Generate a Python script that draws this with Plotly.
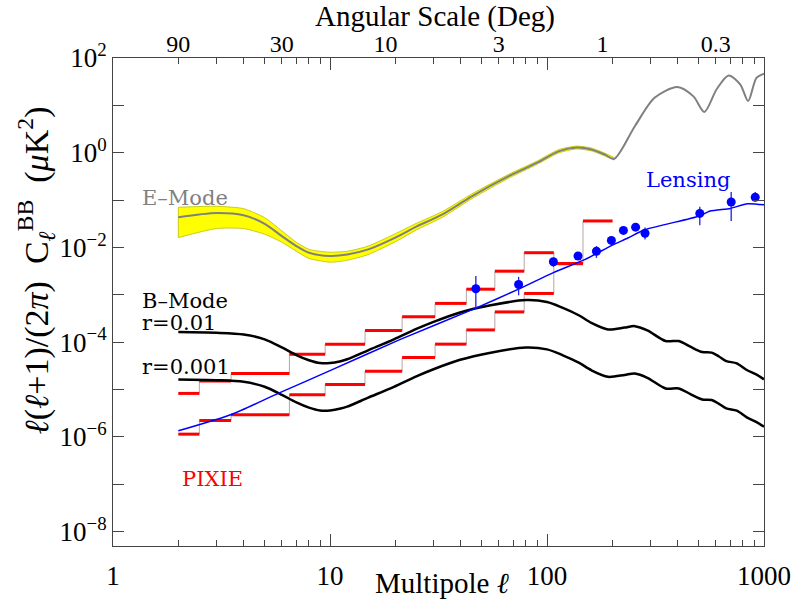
import numpy as np
import plotly.graph_objects as go

# ---------------- data (log10 of l(l+1)C_l/2pi in uK^2) ----------------
emode_ell = [2, 3, 4, 5, 6, 7, 8, 10, 12, 15, 20, 25, 33, 45, 67, 90, 113, 137, 160, 185, 204,
             254, 313, 399, 473, 531, 605, 687, 778, 845, 923, 1000]
emode_log = [-1.36, -1.27, -1.32, -1.50, -1.76, -1.97, -2.11, -2.18, -2.15, -2.04, -1.79, -1.56,
             -1.30, -0.92, -0.49, -0.21, 0.03, 0.11, 0.07, -0.04, -0.13,
             0.56, 1.16, 1.39, 1.19, 0.86, 1.34, 1.63, 1.44, 1.09, 1.58, 1.67]

band_ell = [2, 3, 4, 5, 6, 7, 8, 10, 12, 15, 20, 25, 33, 45, 67, 90, 113, 137, 160, 185, 204]
band_hi_log = [-1.15, -1.13, -1.18, -1.37, -1.65, -1.89, -2.04, -2.10, -2.08, -1.97, -1.71, -1.49,
               -1.24, -0.87, -0.45, -0.175, 0.065, 0.14, 0.10, -0.01, -0.10]
band_lo_log = [-1.79, -1.60, -1.60, -1.72, -1.89, -2.08, -2.23, -2.31, -2.27, -2.15, -1.88, -1.63,
               -1.36, -0.97, -0.53, -0.245, -0.005, 0.08, 0.04, -0.07, -0.155]

bmode_ell = [2, 3, 4, 5, 6, 7, 8, 9, 10, 11.2, 12, 15, 19.7, 25, 30, 39.4, 55, 80, 100, 117.6, 140,
             160, 191, 228, 254, 290, 352, 405, 460, 519, 574, 620, 670, 749, 833, 920, 1000]
bmode_r01_log = [-3.785, -3.80, -3.835, -3.94, -4.11, -4.27, -4.38, -4.44, -4.44, -4.40, -4.36, -4.17,
                 -3.94, -3.72, -3.57, -3.376, -3.22, -3.11, -3.15, -3.27, -3.43,
                 -3.59, -3.73, -3.69, -3.66, -3.75, -3.975, -3.975, -4.10, -4.207, -4.22, -4.30,
                 -4.397, -4.445, -4.586, -4.68, -4.783]
bmode_r001_log = [-4.785, -4.80, -4.835, -4.94, -5.11, -5.27, -5.38, -5.44, -5.44, -5.40, -5.36, -5.17,
                  -4.94, -4.72, -4.57, -4.376, -4.22, -4.11, -4.15, -4.27, -4.43,
                  -4.59, -4.73, -4.69, -4.66, -4.75, -4.975, -4.975, -5.10, -5.207, -5.22, -5.30,
                  -5.397, -5.445, -5.586, -5.68, -5.783]

lens_ell = [2, 3.54, 5.77, 10, 21.1, 47, 74, 107, 150, 200, 236, 280, 500, 565, 700, 840, 1000]
lens_log = [-5.87, -5.52, -5.08, -4.60, -3.94, -3.28, -2.88, -2.53, -2.25, -1.95, -1.80, -1.63,
            -1.34, -1.23, -1.175, -1.076, -1.10]

pts_ell = [47, 74, 107, 139, 169, 198, 225, 256, 283, 506, 706, 911]
pts_log = [-2.87, -2.78, -2.30, -2.18, -2.08, -1.85, -1.64, -1.57, -1.70, -1.28, -1.04, -0.94]
pts_hi_log = [-2.60, -2.62, -2.22, -2.13, -1.97, -1.80, -1.60, -1.53, -1.58, -1.14, -0.83, -0.83]
pts_lo_log = [-3.29, -3.01, -2.41, -2.23, -2.22, -1.90, -1.68, -1.61, -1.83, -1.53, -1.44, -1.02]

pixie_edges = [2, 2.5, 3.5, 6.5, 9.5, 14.5, 21.5, 30.5, 42.5, 57.5, 78.5, 107.5, 146.5, 200.5]
pixie_hi_log = [-5.08, -4.82, -4.66, -4.255, -4.04, -3.75, -3.46, -3.18, -2.88, -2.50, -2.11, -2.34, -1.44]
pixie_lo_log = [-5.94, -5.65, -5.53, -5.11, -4.89, -4.61, -4.32, -4.04, -3.74, -3.36, -2.97, -2.34]

x_ticks = [1, 10, 100, 1000]
x_ticktext = ['1', '10', '100', '1000']
x_minor = [2, 3, 4, 5, 6, 7, 8, 9, 20, 30, 40, 50, 60, 70, 80, 90, 200, 300, 400, 500, 600, 700, 800, 900]
top_ticks_ell = [2, 6, 18, 60, 180, 600]
top_ticktext = ['90', '30', '10', '3', '1', '0.3']
y_label_decades = [-8, -6, -4, -2, 0, 2]
y_minor_decades = [-7, -5, -3, -1, 1]

# ---------------- figure ----------------
W, H = 803, 603
ML, MR, MT, MB = 113, 32, 58, 56
PW, PH = W - ML - MR, H - MT - MB


def pxp(x):
    return (x - ML) / PW


def pyp(y):
    return (H - MB - y) / PH


def p10(a):
    return [10.0 ** v for v in a]


fig = go.Figure()

# E-mode cosmic-variance band
band_line = dict(color='#bdbd00', width=0.8, shape='spline', smoothing=0.6)
fig.add_trace(go.Scatter(x=band_ell, y=p10(band_hi_log), mode='lines', line=band_line, hoverinfo='skip', showlegend=False))
fig.add_trace(go.Scatter(x=band_ell, y=p10(band_lo_log), mode='lines', fill='tonexty', fillcolor='#ffff00',
                         line=band_line, hoverinfo='skip', showlegend=False))
fig.add_trace(go.Scatter(x=[band_ell[0], band_ell[0]], y=p10([band_hi_log[0], band_lo_log[0]]), mode='lines',
                         line=dict(color='#bdbd00', width=0.8), hoverinfo='skip', showlegend=False))
# E-mode
fig.add_trace(go.Scatter(x=emode_ell, y=p10(emode_log), mode='lines',
                         line=dict(color='#808080', width=2, shape='spline', smoothing=0.8), showlegend=False))

# PIXIE step connectors (thin gray) and bins (red)
fig.add_trace(go.Scatter(x=pixie_edges, y=p10(pixie_hi_log + [pixie_hi_log[-1]]), mode='lines',
                         line=dict(color='#b8a4a4', width=1, shape='hv'), showlegend=False, hoverinfo='skip'))
fig.add_trace(go.Scatter(x=pixie_edges[:len(pixie_lo_log) + 1], y=p10(pixie_lo_log + [pixie_lo_log[-1]]), mode='lines',
                         line=dict(color='#b8a4a4', width=1, shape='hv'), showlegend=False, hoverinfo='skip'))
rx, ry = [], []
for vals in (pixie_hi_log, pixie_lo_log):
    for i, v in enumerate(vals):
        rx += [pixie_edges[i], pixie_edges[i + 1], None]
        ry += [10.0 ** v, 10.0 ** v, None]
fig.add_trace(go.Scatter(x=rx, y=ry, mode='lines', line=dict(color='#ff0000', width=3), showlegend=False))

# B-mode
for arr in (bmode_r01_log, bmode_r001_log):
    fig.add_trace(go.Scatter(x=bmode_ell, y=p10(arr), mode='lines',
                             line=dict(color='black', width=2.5, shape='spline', smoothing=0.8), showlegend=False))

# Lensing
fig.add_trace(go.Scatter(x=lens_ell, y=p10(lens_log), mode='lines',
                         line=dict(color='#0000ff', width=1.5, shape='spline', smoothing=0.6), showlegend=False))
pv = np.array(p10(pts_log))
fig.add_trace(go.Scatter(x=pts_ell, y=pv, mode='markers', marker=dict(color='#0000ff', size=9),
                         error_y=dict(type='data', symmetric=False, array=np.array(p10(pts_hi_log)) - pv,
                                      arrayminus=pv - np.array(p10(pts_lo_log)), color='#2020dd', thickness=1.3, width=0),
                         showlegend=False))

# invisible trace on the top (angular scale) axis so it is drawn
fig.add_trace(go.Scatter(x=[1, 1000], y=[1e-8, 1e-8], xaxis='x2', mode='markers', marker=dict(opacity=0),
                         hoverinfo='skip', showlegend=False))

TF = 'Liberation Serif'
LF = 'DejaVu Serif'
axcol = '#444444'

fig.update_layout(
    width=W, height=H, margin=dict(l=ML, r=MR, t=MT, b=MB),
    paper_bgcolor='white', plot_bgcolor='white', showlegend=False,
    xaxis=dict(type='log', range=[0, 3], tickvals=x_ticks, ticktext=x_ticktext, ticks='inside', ticklen=12, tickwidth=1,
               tickcolor=axcol, showline=True, linecolor=axcol, linewidth=1, mirror='ticks', showgrid=False, zeroline=False,
               tickfont=dict(family=TF, size=27, color='black'), ticklabelstandoff=6,
               minor=dict(tickvals=x_minor, ticks='inside', ticklen=6, tickwidth=1, tickcolor=axcol, showgrid=False)),
    xaxis2=dict(type='log', range=[0, 3], overlaying='x', side='top', tickvals=top_ticks_ell, ticktext=top_ticktext,
                ticks='', showline=False, showgrid=False, zeroline=False, ticklabelstandoff=0,
                tickfont=dict(family=TF, size=24, color='black')),
    yaxis=dict(type='log', range=[-8.301, 2], tickvals=[10.0 ** k for k in y_label_decades],
               ticktext=['10<sup>%s</sup>' % str(k).replace('-', '−') for k in y_label_decades],
               ticks='inside', ticklen=11, tickwidth=1, tickcolor=axcol, showline=True, linecolor=axcol, linewidth=1,
               mirror='ticks', showgrid=False, zeroline=False, tickfont=dict(family=TF, size=27, color='black'),
               minor=dict(tickvals=[10.0 ** k for k in y_minor_decades], ticks='inside', ticklen=11, tickwidth=1,
                          tickcolor=axcol, showgrid=False)),
)

ann = [
    dict(text='Angular Scale (Deg)', x=pxp(438), y=pyp(16.5), font=dict(family=TF, size=29, color='black')),
    dict(text='Multipole <i>ℓ</i>', x=pxp(446), y=pyp(584), font=dict(family=TF, size=29, color='black')),
    dict(text='<i>ℓ</i>(<i>ℓ</i>+1)/(2<i>π</i>)  C<sub><i>ℓ</i></sub><sup>BB</sup>  (<i>μ</i>K<sup>2</sup>)',
         x=pxp(35), y=pyp(271), textangle=-90, font=dict(family=TF, size=34, color='black')),
]
for a in ann:
    a.update(xref='paper', yref='paper', showarrow=False, xanchor='center', yanchor='middle')

labels = [
    ('E–Mode', 140, 198, '#808080'),
    ('B–Mode', 140, 301, 'black'),
    ('r=0.01', 140, 324, 'black'),
    ('r=0.001', 140, 368, 'black'),
    ('PIXIE', 181, 480, '#ff0000'),
    ('Lensing', 650, 180, '#0000ff'),
]
for t, x, y, c in labels:
    ann.append(dict(text=t, x=pxp(x), y=pyp(y), xref='paper', yref='paper', showarrow=False, xanchor='left',
                    yanchor='middle', font=dict(family=LF, size=21, color=c)))
fig.update_layout(annotations=ann)

fig.write_html('out.html', config={'displayModeBar': False}, post_script="document.body.style.margin='0px';")
